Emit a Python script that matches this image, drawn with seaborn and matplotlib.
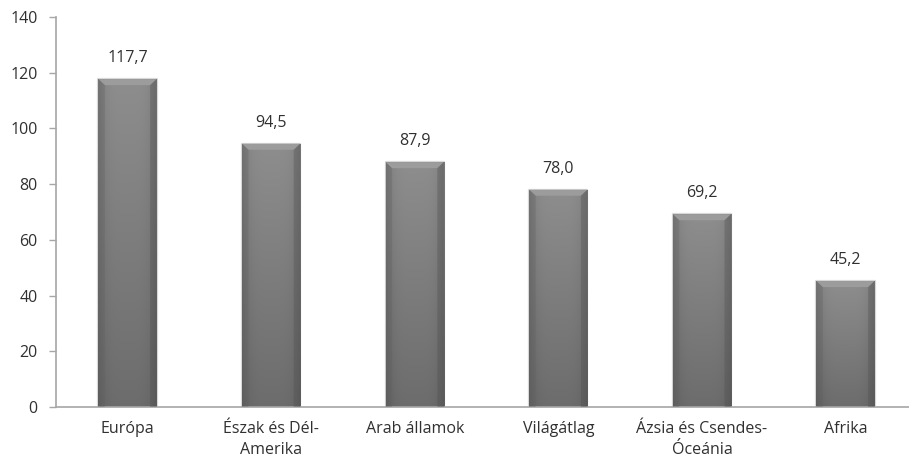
import numpy as np
import pandas as pd
import matplotlib
matplotlib.use("Agg")
import matplotlib.pyplot as plt
import seaborn as sns
from matplotlib.patches import Polygon

categories = ["Európa", "Észak és Dél-\nAmerika", "Arab államok", "Világátlag",
              "Ázsia és Csendes-\nÓceánia", "Afrika"]
values = [117.7, 94.5, 87.9, 78.0, 69.2, 45.2]
value_labels = ["117,7", "94,5", "87,9", "78,0", "69,2", "45,2"]
yticks = [0, 20, 40, 60, 80, 100, 120, 140]

sns.set_theme(style="white")
plt.rcParams['font.family'] = ['Open Sans', 'DejaVu Sans']

W, H = 909, 465
fig = plt.figure(figsize=(W / 100, H / 100), dpi=100)
left, right, bottom, top = 55.7, 917.3, 407, 17
ax = fig.add_axes([left / W, (H - bottom) / H, (right - left) / W, (bottom - top) / H])

df = pd.DataFrame({"cat": categories, "val": values})
sns.barplot(data=df, x="cat", y="val", color="#8a8a8a", width=0.405, ax=ax,
            saturation=1, edgecolor="none", linewidth=0)

ax.set_ylim(0, 140)
ax.set_xlim(-0.5, len(categories) - 0.5)
ax.set_yticks(yticks)
ax.set_yticklabels([str(t) for t in yticks], fontsize=11.5, color="#303030")
ax.set_xlabel("")
ax.set_ylabel("")
ax.tick_params(axis="x", length=0, pad=10, labelsize=11.5, labelcolor="#303030")
ax.tick_params(axis="y", length=5, width=1, color="#a6a6a6", left=True, pad=8)
for lab in ax.get_xticklabels():
    lab.set_linespacing(1.45)
    lab.set_verticalalignment("top")
for s in ["top", "right"]:
    ax.spines[s].set_visible(False)
for s in ["left", "bottom"]:
    ax.spines[s].set_color("#a6a6a6")
    ax.spines[s].set_linewidth(1.2)

# gradient shading: lighter at top, darker at bottom, darker at sides
ys = np.linspace(0, 1, 200)[:, None]
xs = np.linspace(-1, 1, 100)[None, :]
shade = (0.555 - 0.13 * ys) * (1 - 0.15 * np.abs(xs) ** 4)
px_per_unit = (bottom - top) / 140.0
for p, v, lbl in zip(ax.patches, values, value_labels):
    x0 = p.get_x(); w = p.get_width(); h = p.get_height()
    rgb = np.dstack([shade, shade, shade])
    im = ax.imshow(rgb, extent=[x0, x0 + w, 0, h], aspect="auto", zorder=2,
                   origin="upper", interpolation="bilinear")
    im.set_clip_path(p)
    # soft shadow outline
    ax.plot([x0, x0, x0 + w, x0 + w], [0, h, h, 0], color="#c8c8c8", lw=1.6,
            alpha=0.7, zorder=1.5)
    # top bevel
    bev_h = 6 / px_per_unit
    bev_w = 0.045
    poly = Polygon([[x0, h], [x0 + w, h], [x0 + w - bev_w, h - bev_h], [x0 + bev_w, h - bev_h]],
                   closed=True, facecolor="#9c9c9c", edgecolor="none", zorder=3)
    ax.add_patch(poly)
    poly2 = Polygon([[x0, h], [x0 + bev_w, h - bev_h], [x0 + bev_w, 0], [x0, 0]],
                    closed=True, facecolor="#606060", edgecolor="none", zorder=3, alpha=0.3)
    ax.add_patch(poly2)
    poly3 = Polygon([[x0 + w, h], [x0 + w - bev_w, h - bev_h], [x0 + w - bev_w, 0], [x0 + w, 0]],
                    closed=True, facecolor="#505050", edgecolor="none", zorder=3, alpha=0.35)
    ax.add_patch(poly3)
    ax.text(x0 + w / 2, h + 7.5, lbl, ha="center", va="center", fontsize=11.5,
            color="#303030", zorder=4)

fig.savefig("out.png", dpi=100)
